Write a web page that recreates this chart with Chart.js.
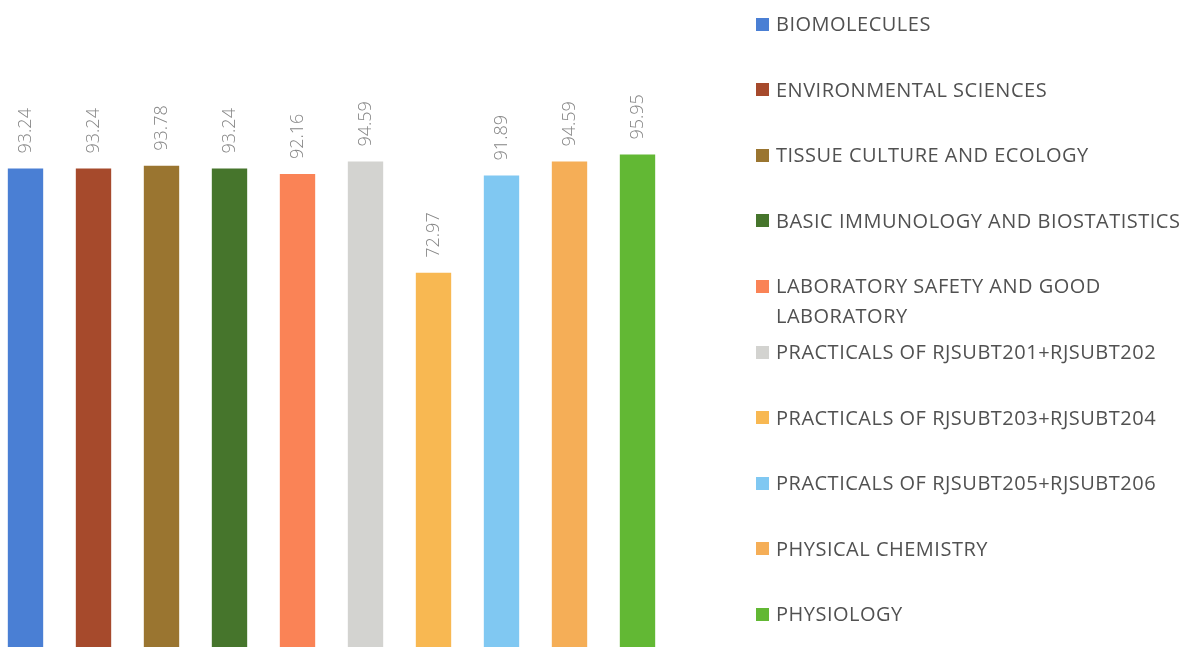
<!DOCTYPE html>
<html>
<head>
<meta charset="utf-8">
<script src="https://cdn.jsdelivr.net/npm/chart.js@4.4.1/dist/chart.umd.min.js"></script>
<style>
  html, body { margin: 0; padding: 0; background: #ffffff; overflow: hidden; }
  #wrap { position: absolute; left: 0; top: 0; width: 1181px; height: 648px; }
  #legend { position: absolute; left: 756px; top: 0; width: 425px; height: 647px;
            font-family: "Open Sans", "Noto Sans", sans-serif; font-size: 20px; letter-spacing: 0.5px; color: #515151; }
  .item { position: absolute; left: 0; width: 425px; }
  .box { position: absolute; left: 0; width: 13px; height: 13px; top: 8.5px; }
  .txt { position: absolute; left: 20px; width: 410px; line-height: 30px; white-space: normal; }
</style>
</head>
<body>
<div id="wrap"><canvas id="c"></canvas></div>
<div id="legend"></div>
<script>
// ---- data ----
const subjects = [
  "BIOMOLECULES",
  "ENVIRONMENTAL SCIENCES",
  "TISSUE CULTURE AND ECOLOGY",
  "BASIC IMMUNOLOGY AND BIOSTATISTICS",
  "LABORATORY SAFETY AND GOOD LABORATORY",
  "PRACTICALS OF RJSUBT201+RJSUBT202",
  "PRACTICALS OF RJSUBT203+RJSUBT204",
  "PRACTICALS OF RJSUBT205+RJSUBT206",
  "PHYSICAL CHEMISTRY",
  "PHYSIOLOGY"
];
const passPercent = [93.24, 93.24, 93.78, 93.24, 92.16, 94.59, 72.97, 91.89, 94.59, 95.95];
const barColors = ["#4a7fd4", "#a64a2c", "#9a7530", "#46752c", "#fa8356",
                   "#d3d3d0", "#f8b852", "#80c8f2", "#f5ae57", "#62b834"];

// one dataset per subject, value only at its own category
const datasets = subjects.map((name, i) => ({
  label: name,
  data: passPercent.map((v, j) => (j === i ? v : null)),
  backgroundColor: barColors[i],
  borderWidth: 0,
  clip: false,
  categoryPercentage: 1,
  barPercentage: 0.52
}));

const valueLabels = {
  id: 'valueLabels',
  afterDatasetsDraw(chart) {
    const ctx = chart.ctx;
    ctx.save();
    ctx.font = '300 18px "Open Sans", "Noto Sans", sans-serif';
    ctx.fillStyle = '#858585';
    ctx.textAlign = 'left';
    ctx.textBaseline = 'middle';
    chart.data.datasets.forEach((ds, di) => {
      const meta = chart.getDatasetMeta(di);
      ds.data.forEach((v, j) => {
        if (v === null) return;
        const el = meta.data[j];
        ctx.save();
        ctx.translate(el.x + 0.5, el.y - 15);
        ctx.rotate(-Math.PI / 2);
        ctx.fillText(v.toFixed(2), 0, 0);
        ctx.restore();
      });
    });
    ctx.restore();
  }
};

const chart = new Chart(document.getElementById('c'), {
  type: 'bar',
  data: { labels: subjects, datasets: datasets },
  options: {
    responsive: true,
    maintainAspectRatio: false,
    animation: false,
    layout: { padding: { left: 25.5, right: 543.5, top: 0, bottom: 0 } },
    plugins: { legend: { display: false }, tooltip: { enabled: false } },
    scales: {
      x: { display: false, offset: false, stacked: true, grid: { display: false } },
      y: { display: false, min: 0, max: 126, grid: { display: false } }
    }
  },
  plugins: [valueLabels]
});

// HTML legend built from the chart's datasets
const legend = document.getElementById('legend');
chart.data.datasets.forEach((ds, i) => {
  const item = document.createElement('div');
  item.className = 'item';
  item.style.top = (24 - 15 + i * 65.6) + 'px';
  const box = document.createElement('div');
  box.className = 'box';
  box.style.background = ds.backgroundColor;
  const txt = document.createElement('div');
  txt.className = 'txt';
  txt.textContent = ds.label;
  item.appendChild(box);
  item.appendChild(txt);
  legend.appendChild(item);
});
</script>
</body>
</html>
